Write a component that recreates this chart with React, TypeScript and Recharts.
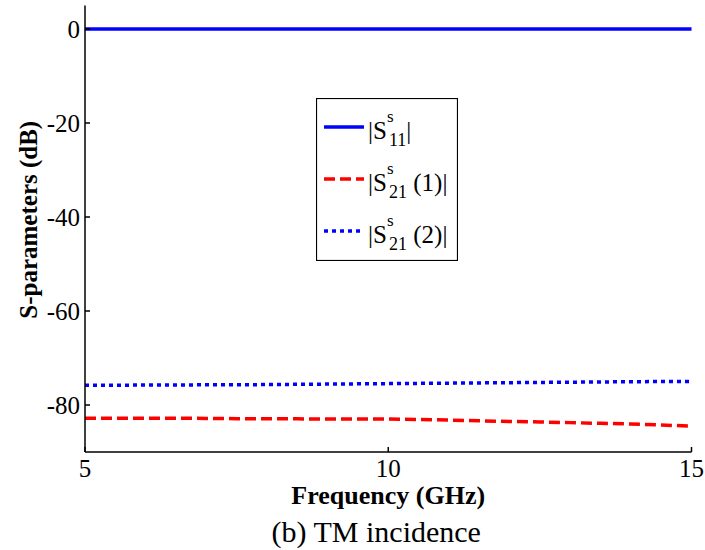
import React from 'react';
import { LineChart, Line, XAxis, YAxis, Legend } from 'recharts';

// frequency samples (GHz)
const freq = [5, 5.5, 6, 6.5, 7, 7.5, 8, 8.5, 9, 9.5, 10, 10.5, 11, 11.5, 12, 12.5, 13, 13.5, 14, 14.5, 15];
// |S11^s| (dB)
const s11 = [0, 0, 0, 0, 0, 0, 0, 0, 0, 0, 0, 0, 0, 0, 0, 0, 0, 0, 0, 0, 0];
// |S21^s (1)| (dB)
const s21One = [-82.8, -82.8, -82.8, -82.8, -82.85, -82.9, -82.9, -82.95, -83.0, -83.0, -83.0, -83.1, -83.2, -83.35, -83.5, -83.6, -83.75, -83.9, -84.05, -84.25, -84.5];
// |S21^s (2)| (dB)
const s21Two = [-75.8, -75.8, -75.75, -75.75, -75.7, -75.7, -75.65, -75.6, -75.55, -75.5, -75.45, -75.4, -75.35, -75.3, -75.25, -75.2, -75.15, -75.1, -75.05, -75.0, -75.0];

const xTicks = [5, 10, 15];
const yTicks = [0, -20, -40, -60, -80];
const xDomain = [5, 15];
const yDomain = [-90, 5];

const legendRows = [
  { sub: '11', tail: '', color: '#0000ff', dash: undefined },
  { sub: '21', tail: ' (1)', color: '#ff0000', dash: '11 5' },
  { sub: '21', tail: ' (2)', color: '#0000ff', dash: '4 4' },
];

const data = freq.map((f, i) => ({ freq: f, s11: s11[i], s21a: s21One[i], s21b: s21Two[i] }));

const FONT = 'Liberation Serif, Times New Roman, DejaVu Serif, serif';

function LegendBox() {
  return (
    <svg width={142} height={163} style={{ display: 'block', fontFamily: FONT }}>
      <rect x={0.5} y={0.5} width={141} height={162} fill="#fff" stroke="#000" strokeWidth={1.2} />
      {legendRows.map((r, i) => {
        const y = 29 + i * 52;
        return (
          <g key={i}>
            <line x1={8} x2={48} y1={y} y2={y} stroke={r.color} strokeWidth={3.5} strokeDasharray={r.dash} />
            <text x={52} y={y + 11.7} fontSize={25} style={{ fontFamily: FONT, whiteSpace: 'pre' }} fill="#000">
              |S
              <tspan fontSize={17} dy={-16.7}>s</tspan>
              <tspan x={73} dy={24.3} fontSize={18}>{r.sub}</tspan>
              <tspan dy={-7.6} fontSize={25}>{r.tail + '|'}</tspan>
            </text>
          </g>
        );
      })}
    </svg>
  );
}

const renderXLabel = (props: any) => {
  const vb = props.viewBox ?? { x: 85, y: 452, width: 606.5, height: 98 };
  const cx = vb.x + vb.width / 2;
  return (
    <g style={{ fontFamily: FONT }}>
      <text x={cx} y={vb.y + 52} textAnchor="middle" fontSize={26} fontWeight="bold" style={{ fontFamily: FONT }} fill="#000">
        Frequency (GHz)
      </text>
      <text x={cx - 12} y={vb.y + 89.5} textAnchor="middle" fontSize={30} style={{ fontFamily: FONT }} fill="#000">
        (b) TM incidence
      </text>
    </g>
  );
};

const renderYLabel = (props: any) => {
  const vb = props.viewBox ?? { x: 0, y: 5.5, width: 85, height: 446.5 };
  const cy = vb.y + vb.height / 2 - 9;
  return (
    <text
      transform={`translate(${vb.x + 37},${cy}) rotate(-90)`}
      textAnchor="middle"
      fontSize={25}
      fontWeight="bold"
      style={{ fontFamily: FONT }}
      fill="#000"
    >
      S-parameters (dB)
    </text>
  );
};

export default function App() {
  const tickStyle = { fill: '#000', fontSize: 25, fontFamily: FONT, style: { fontFamily: FONT } };
  return (
    <div style={{ position: 'absolute', left: 0, top: 0, width: 705, height: 550, background: '#fff', fontFamily: FONT }}>
      <LineChart width={705} height={550} data={data} margin={{ top: 5.5, right: 13.5, bottom: 0, left: 0 }} style={{ fontFamily: FONT }}>
        <XAxis
          xAxisId="bottom"
          dataKey="freq"
          type="number"
          domain={xDomain}
          ticks={xTicks}
          height={98}
          tickSize={-5}
          tickMargin={12}
          tick={tickStyle}
          stroke="#000"
          strokeWidth={1.5}
          label={{ content: renderXLabel }}
        />
        <XAxis
          xAxisId="top"
          orientation="top"
          dataKey="freq"
          type="number"
          domain={xDomain}
          ticks={xTicks}
          height={0}
          tickSize={-5}
          tick={false}
          stroke="#000"
          strokeWidth={1.5}
        />
        <YAxis
          yAxisId="left"
          type="number"
          domain={yDomain}
          ticks={yTicks}
          width={85}
          tickSize={-5}
          tickMargin={10}
          tick={tickStyle}
          stroke="#000"
          strokeWidth={1.5}
          label={{ content: renderYLabel }}
        />
        <YAxis
          yAxisId="right"
          orientation="right"
          type="number"
          domain={yDomain}
          ticks={yTicks}
          width={0}
          tickSize={-5}
          tick={false}
          stroke="#000"
          strokeWidth={1.5}
        />
        <Legend
          layout="horizontal"
          verticalAlign="middle"
          align="center"
          content={() => <LegendBox />}
          wrapperStyle={{ left: 316, top: 98, width: 142, height: 163 }}
        />
        <Line xAxisId="bottom" yAxisId="left" type="linear" dataKey="s11" stroke="#0000ff" strokeWidth={3.5} dot={false} activeDot={false} isAnimationActive={false} />
        <Line xAxisId="bottom" yAxisId="left" type="linear" dataKey="s21a" stroke="#ff0000" strokeWidth={3.5} strokeDasharray="11 5" dot={false} activeDot={false} isAnimationActive={false} />
        <Line xAxisId="bottom" yAxisId="left" type="linear" dataKey="s21b" stroke="#0000ff" strokeWidth={3.5} strokeDasharray="4 4" dot={false} activeDot={false} isAnimationActive={false} />
      </LineChart>
    </div>
  );
}
